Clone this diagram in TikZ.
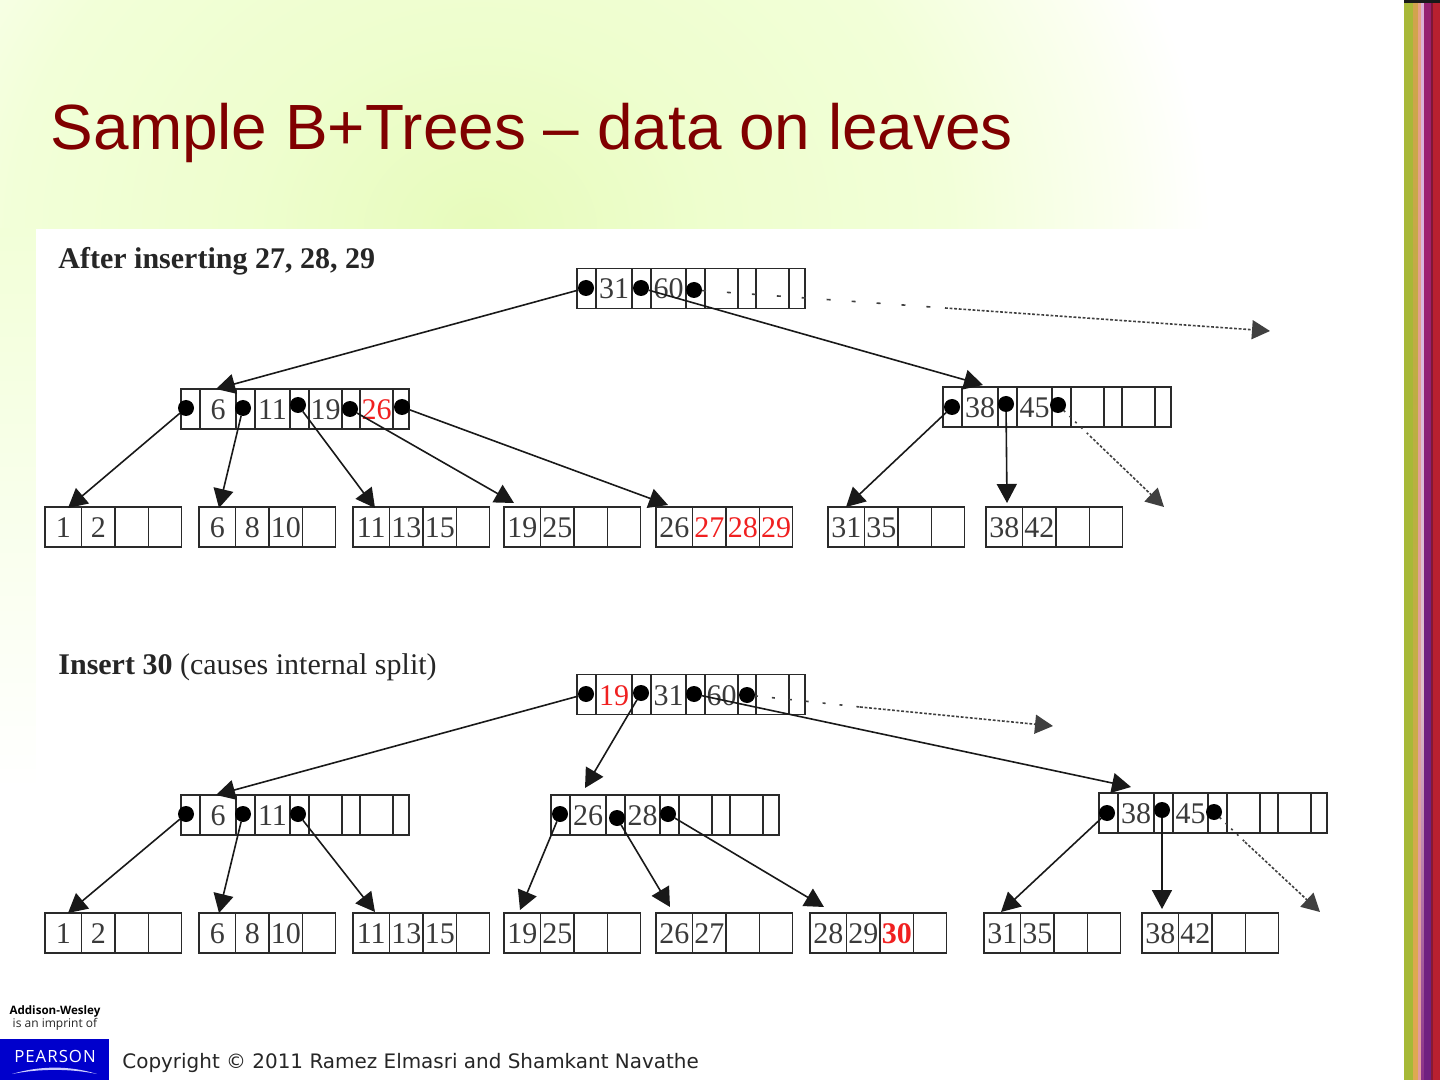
\documentclass[tikz,border=0pt]{standalone}
\usepackage{fontspec}
\setmainfont{Liberation Serif}
\newfontfamily\titlefont{Liberation Sans}
\newfontfamily\footfont{DejaVu Sans}
\newfontfamily\logofont{Open Sans}
\usetikzlibrary{arrows.meta}
\definecolor{titlered}{HTML}{800000}
\definecolor{keyred}{HTML}{F02020}
\definecolor{cellline}{HTML}{2A2A2A}
\definecolor{keytext}{HTML}{3A3A3A}
\definecolor{bga}{HTML}{E7FBBC}
\definecolor{bgb}{HTML}{EEFECE}
\definecolor{bgc}{HTML}{F2FFD8}
\definecolor{bgd}{HTML}{FBFFF0}
\definecolor{pearsonblue}{HTML}{0000CC}
\definecolor{stripred}{HTML}{B82030}
\pgfdeclareradialshading{slidebg}{\pgfpointorigin}{%
  color(0bp)=(bga); color(8bp)=(bgb); color(16bp)=(bgc); color(22bp)=(bgd); color(25bp)=(white); color(50bp)=(white)}
\definecolor{ola}{HTML}{A5BA35}\definecolor{olb}{HTML}{A8B838}\definecolor{olc}{HTML}{BEAA3C}\definecolor{old}{HTML}{C8A848}
\pgfdeclareverticalshading{stripolive}{100bp}{color(0bp)=(ola); color(75bp)=(olb); color(90bp)=(olc); color(100bp)=(old)}
\definecolor{sa}{HTML}{C8B050}\definecolor{sb}{HTML}{E0A850}\definecolor{sc}{HTML}{B8B040}\definecolor{sd}{HTML}{D8A050}
\pgfdeclareverticalshading{striptan}{100bp}{color(0bp)=(sa); color(28bp)=(sb); color(52bp)=(sc); color(80bp)=(sd); color(100bp)=(sd)}
\definecolor{se}{HTML}{E89098}\definecolor{sf}{HTML}{E0A0A0}\definecolor{sg}{HTML}{E8A080}
\pgfdeclareverticalshading{stripsalmon}{100bp}{color(0bp)=(se); color(40bp)=(sf); color(80bp)=(sg); color(100bp)=(sg)}
\definecolor{sh}{HTML}{D87098}\definecolor{si}{HTML}{8A3088}\definecolor{sj}{HTML}{E0C0C8}\definecolor{sk}{HTML}{D8B8E0}\definecolor{sl}{HTML}{E0A0C0}
\pgfdeclareverticalshading{striplight}{100bp}{color(0bp)=(sh); color(25bp)=(si); color(43bp)=(sj); color(60bp)=(sk); color(100bp)=(sl)}
\definecolor{sm}{HTML}{501880}\definecolor{sn}{HTML}{702080}\definecolor{so}{HTML}{A02070}\definecolor{sp}{HTML}{902070}\definecolor{sq}{HTML}{4A3A80}
\pgfdeclareverticalshading{strippurple}{100bp}{color(0bp)=(sm); color(25bp)=(sn); color(45bp)=(sn); color(63bp)=(so); color(80bp)=(sp); color(100bp)=(sq)}
\definecolor{sr}{HTML}{8A1C34}\definecolor{ss}{HTML}{7A1438}
\pgfdeclareverticalshading{stripdark}{100bp}{color(0bp)=(sr); color(100bp)=(ss)}
\newcommand\cel[6]{\node[cellbox,minimum width={(#3-#2)*0.5pt},minimum height={(#5-#4)*0.5pt}] (#1) at ({(#2+#3)/2},{(#4+#5)/2}) {#6};}
% name x y k1 k2 k3 k4
\newcommand\ibox[7]{%
  \pgfmathsetmacro\yb{#3+40}%
  \foreach \n/\a/\b/\t in {p1/0/19/{},k1/19/55/{#4},p2/55/74/{},k2/74/109/{#5},p3/109/128/{},k3/128/161/{#6},p4/161/179/{},k4/179/212/{#7},p5/212/228/{}}{%
    \pgfmathsetmacro\xa{#2+\a}\pgfmathsetmacro\xb{#2+\b}%
    \cel{#1\n}{\xa}{\xb}{#3}{\yb}{\t}}}
\newcommand\lbox[7]{%
  \pgfmathsetmacro\yb{#3+40}%
  \foreach \n/\a/\b/\t in {k1/0/36.5/{#4},k2/36.5/70/{#5},k3/70/103.5/{#6},k4/103.5/136.5/{#7}}{%
    \pgfmathsetmacro\xa{#2+\a}\pgfmathsetmacro\xb{#2+\b}%
    \cel{#1\n}{\xa}{\xb}{#3}{\yb}{\t}}}
\newcommand\rd[1]{\textcolor{keyred}{#1}}
\tikzset{
  cellbox/.style={draw=cellline,line width=0.9pt,inner sep=0pt,outer sep=0pt,text=keytext,font=\fontsize{15}{16}\selectfont,text height=10.5pt,text depth=0pt},
  dotmark/.style={circle,fill=black,inner sep=0pt,minimum size=8pt,outer sep=0pt},
  link/.style={line width=0.8pt,draw=black!90,-{Triangle[length=9.5pt,width=10pt]}},
  sparse/.style={line width=0.8pt,draw=black!75,dash pattern=on 2pt off 10.5pt},
  dense/.style={line width=0.8pt,draw=black!75,dash pattern=on 1.4pt off 0.9pt,-{Triangle[length=9pt,width=9.5pt]}},
  hdr/.style={anchor=base west,inner sep=0pt,font=\fontsize{15}{16}\selectfont,text=black!85},
  stripe/.style={draw=none}
}
\begin{document}
\begin{tikzpicture}[x=0.5pt,y=-0.5pt]
\useasboundingbox (0,0) rectangle (1440,1080);
\fill[white] (0,0) rectangle (1440,1080);
\begin{scope}
\clip (0,0) rectangle (1404,1080);
\shade[shading=slidebg] (480,230) ellipse [x radius=730,y radius=620];
\end{scope}
\shade[top color=bgc,bottom color=white,draw=none] (0,229) rectangle (36,790);
\fill[white] (36,229) rectangle (1404,1000);
% side strip
\shade[shading=stripolive,stripe] (1404,3) rectangle (1413.5,1080);
\shade[shading=striptan,stripe] (1413,3) rectangle (1418.5,1080);
\shade[shading=stripsalmon,stripe] (1418,3) rectangle (1421.5,1080);
\shade[shading=striplight,stripe] (1421,3) rectangle (1424.5,1080);
\shade[shading=strippurple,stripe] (1424,3) rectangle (1431.5,1080);
\shade[shading=stripdark,stripe] (1431,3) rectangle (1433.5,1080);
\fill[stripred,stripe] (1433,3) rectangle (1440,1080);
\fill[black!90] (1404,0) rectangle (1440,3);
% title
\node[anchor=base west,inner sep=0pt,text=titlered,font=\titlefont\fontsize{31.95}{34}\selectfont] (title) at (50.5,149.5) {Sample B+Trees – data on leaves};
\node[hdr] (head1) at (58,269) {\textbf{After inserting 27, 28, 29}};
\node[hdr] (head2) at (58,674) {\textbf{Insert 30} (causes internal split)};
% first tree
\ibox{ra}{577}{268.5}{31}{60}{}{}
\ibox{ia}{181}{389}{6}{11}{19}{\rd{26}}
\ibox{ib}{943}{387}{38}{45}{}{}
\lbox{la}{45}{507}{1}{2}{}{}
\lbox{lb}{199}{507}{6}{8}{10}{}
\lbox{lc}{353}{507}{11}{13}{15}{}
\lbox{ld}{504}{507}{19}{25}{}{}
\lbox{le}{656}{507}{26}{\rd{27}}{\rd{28}}{\rd{29}}
\lbox{lf}{828}{507}{31}{35}{}{}
\lbox{lg}{986}{507}{38}{42}{}{}
% second tree
\ibox{rb}{577}{674.5}{\rd{19}}{31}{60}{}
\ibox{ic}{181}{795}{6}{11}{}{}
\ibox{id}{551}{795}{26}{28}{}{}
\ibox{ie}{1099}{793}{38}{45}{}{}
\lbox{ma}{45}{913}{1}{2}{}{}
\lbox{mb}{199}{913}{6}{8}{10}{}
\lbox{mc}{353}{913}{11}{13}{15}{}
\lbox{md}{504}{913}{19}{25}{}{}
\lbox{me}{656}{913}{26}{27}{}{}
\lbox{mf}{810}{913}{28}{29}{\textbf{\rd{30}}}{}
\lbox{mg}{984}{913}{31}{35}{}{}
\lbox{mh}{1142}{913}{38}{42}{}{}
% pointer dots
\foreach \n/\x/\y in {ra1/586/288,ra2/641/288,ra3/694/290,
  ia1/186/408,ia2/243/408,ia3/298/405,ia4/350/409,ia5/402/407,
  ib1/952/407,ib2/1006/404,ib3/1058/405,
  rb1/586/694,rb2/641/693,rb3/694/694,rb4/747/695,
  ic1/186/814,ic2/243/814,ic3/298/814,
  id1/560/814,id2/617/818,id3/668/814,
  ie1/1107/813,ie2/1162/810,ie3/1214/812}
  {\node[dotmark] (d\n) at (\x,\y) {};}
% connector ends
\foreach \n/\x/\y in {t1/216/389,t2/983/385,t3m/945/308,t3/1270/331,
  t4/68/508,t5/219/508,t6/375/508,t7/514/503,t8/668/505,
  t9/846/507,t10/1007/503,t11m/1090/436,t11/1164/507,
  u1/216/795,u2/585/788,u3/1131/787,u4m/860/707,u4/1053/726,
  u5/68/913,u6/219/913,u7/375/912,u8/520/910,u9/670/907,u10/824/907,
  u11/1001/912,u12/1162/909,u13m/1245/842,u13/1320/912}
  {\coordinate (\n) at (\x,\y);}
\draw[link] (dra1) -- (t1);
\draw[link] (dra2) -- (t2);
\draw[sparse] (dra3) -- (t3m);
\draw[dense] (t3m) -- (t3);
\draw[link] (dia1) -- (t4);
\draw[link] (dia2) -- (t5);
\draw[link] (dia3) -- (t6);
\draw[link] (dia4) -- (t7);
\draw[link] (dia5) -- (t8);
\draw[link] (dib1) -- (t9);
\draw[link] (dib2) -- (t10);
\draw[sparse,dash pattern=on 1pt off 3pt] (dib3) -- (t11m);
\draw[dense] (t11m) -- (t11);
\draw[link] (drb1) -- (u1);
\draw[link] (drb2) -- (u2);
\draw[link] (drb3) -- (u3);
\draw[sparse,dash pattern=on 1.5pt off 7pt] (drb4) -- (u4m);
\draw[dense] (u4m) -- (u4);
\draw[link] (dic1) -- (u5);
\draw[link] (dic2) -- (u6);
\draw[link] (dic3) -- (u7);
\draw[link] (did1) -- (u8);
\draw[link] (did2) -- (u9);
\draw[link] (did3) -- (u10);
\draw[link] (die1) -- (u11);
\draw[link] (die2) -- (u12);
\draw[sparse,dash pattern=on 1pt off 3pt] (die3) -- (u13m);
\draw[dense] (u13m) -- (u13);
% footer
\node[anchor=base,inner sep=0pt,font=\logofont\bfseries\fontsize{5.8}{7}\selectfont,text=black] (aw) at (55,1014) {Addison-Wesley};
\node[anchor=base,inner sep=0pt,font=\logofont\fontsize{6}{7}\selectfont,text=black!85] (imp) at (55,1027) {is an imprint of};
\fill[pearsonblue] (0,1039) rectangle (109,1080);
\node[anchor=base,inner sep=0pt,font=\logofont\fontsize{8.4}{9}\selectfont,text=white] (pe) at (55,1062) {\addfontfeature{LetterSpace=6}PEARSON};
\fill[blue!20!white] (12,1074) .. controls (40,1065.5) and (70,1065.5) .. (97,1074) .. controls (70,1068.5) and (40,1068.5) .. (12,1074);
\node[anchor=base west,inner sep=0pt,font=\footfont\fontsize{9.97}{12}\selectfont,text=black!85] (copy) at (122,1068) {Copyright © 2011 Ramez Elmasri and Shamkant Navathe};
\end{tikzpicture}
\end{document}
